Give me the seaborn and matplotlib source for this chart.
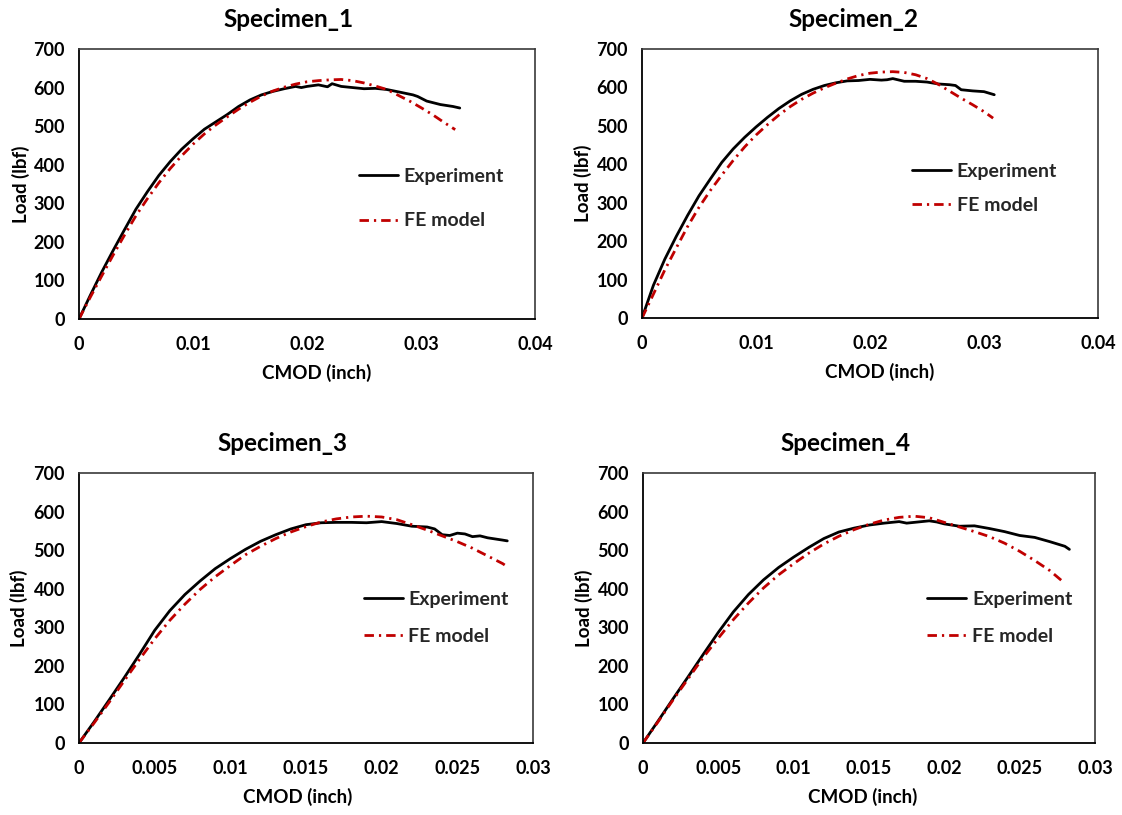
import matplotlib
matplotlib.use("Agg")
import matplotlib.pyplot as plt
import seaborn as sns
import pandas as pd

# ---------------- data ----------------
titles = ["Specimen_1", "Specimen_2", "Specimen_3", "Specimen_4"]
series_names = ["Experiment", "FE model"]

s1_exp_x = [0, 0.001, 0.002, 0.003, 0.004, 0.005, 0.006, 0.007, 0.008, 0.009, 0.010, 0.011, 0.012,
            0.013, 0.014, 0.015, 0.016, 0.017, 0.018, 0.019, 0.0195, 0.020, 0.021, 0.0218, 0.0222,
            0.023, 0.024, 0.025, 0.026, 0.027, 0.028, 0.0293, 0.0297, 0.0305, 0.0317, 0.0328, 0.0334]
s1_exp_y = [0, 62, 122, 178, 232, 285, 330, 372, 408, 440, 467, 492, 511,
            530, 551, 568, 581, 590, 597, 603, 600, 603, 607, 602, 610,
            603, 600, 597, 598, 595, 589, 581, 577, 565, 556, 551, 547]
s1_fe_x = [0, 0.001, 0.002, 0.003, 0.004, 0.005, 0.006, 0.007, 0.008, 0.009, 0.010, 0.011, 0.012,
           0.013, 0.014, 0.015, 0.016, 0.017, 0.018, 0.019, 0.020, 0.021, 0.022, 0.023, 0.024,
           0.025, 0.026, 0.027, 0.028, 0.029, 0.030, 0.031, 0.032, 0.033]
s1_fe_y = [0, 57, 112, 166, 218, 268, 312, 353, 390, 423, 453, 480, 503,
           524, 544, 562, 578, 591, 601, 609, 615, 618, 620, 621, 618,
           612, 604, 595, 580, 565, 548, 530, 510, 491]

s2_exp_x = [0, 0.001, 0.002, 0.003, 0.004, 0.005, 0.006, 0.007, 0.008, 0.009, 0.010, 0.011, 0.012,
            0.013, 0.014, 0.015, 0.016, 0.017, 0.018, 0.019, 0.020, 0.021, 0.0215, 0.022, 0.023,
            0.024, 0.025, 0.026, 0.027, 0.0275, 0.028, 0.029, 0.030, 0.0309]
s2_exp_y = [0, 85, 153, 212, 267, 318, 362, 405, 440, 470, 497, 522, 545,
            565, 582, 595, 605, 612, 617, 618, 621, 619, 620, 623, 616,
            616, 614, 609, 607, 605, 594, 591, 589, 581]
s2_fe_x = [0, 0.001, 0.002, 0.003, 0.004, 0.005, 0.006, 0.007, 0.008, 0.009, 0.010, 0.011, 0.012,
           0.013, 0.014, 0.015, 0.016, 0.017, 0.018, 0.019, 0.020, 0.021, 0.022, 0.023, 0.024,
           0.025, 0.026, 0.027, 0.028, 0.029, 0.030, 0.0308]
s2_fe_y = [0, 62, 125, 182, 238, 288, 332, 372, 410, 445, 476, 503, 528,
           550, 569, 585, 599, 611, 622, 631, 637, 640, 641, 639, 633,
           623, 608, 590, 572, 555, 537, 520]

s3_exp_x = [0, 0.001, 0.002, 0.003, 0.004, 0.005, 0.006, 0.007, 0.008, 0.009, 0.010, 0.011, 0.012,
            0.013, 0.014, 0.015, 0.016, 0.017, 0.018, 0.019, 0.020, 0.021, 0.022, 0.023, 0.0235,
            0.024, 0.0245, 0.025, 0.0255, 0.026, 0.0265, 0.027, 0.028, 0.0283]
s3_exp_y = [0, 55, 112, 170, 230, 292, 343, 385, 420, 452, 478, 502, 523,
            540, 555, 566, 571, 572, 572, 571, 574, 569, 562, 560, 555,
            540, 538, 544, 542, 535, 537, 532, 526, 524]
s3_fe_x = [0, 0.001, 0.002, 0.003, 0.004, 0.005, 0.006, 0.007, 0.008, 0.009, 0.010, 0.011, 0.012,
           0.013, 0.014, 0.015, 0.016, 0.017, 0.018, 0.019, 0.020, 0.021, 0.022, 0.023, 0.024,
           0.025, 0.026, 0.027, 0.028, 0.0283]
s3_fe_y = [0, 52, 106, 162, 217, 270, 318, 360, 398, 431, 460, 488, 510,
           530, 547, 561, 573, 581, 586, 588, 586, 579, 566, 552, 537,
           522, 505, 485, 465, 457]

s4_exp_x = [0, 0.001, 0.002, 0.003, 0.004, 0.005, 0.006, 0.007, 0.008, 0.009, 0.010, 0.011, 0.012,
            0.013, 0.014, 0.015, 0.016, 0.017, 0.0175, 0.018, 0.019, 0.0195, 0.020, 0.021, 0.022,
            0.023, 0.024, 0.025, 0.026, 0.027, 0.028, 0.0283]
s4_exp_y = [0, 57, 115, 172, 230, 287, 340, 385, 423, 455, 482, 507, 530,
            547, 557, 565, 570, 574, 570, 572, 576, 573, 568, 562, 563,
            556, 548, 538, 533, 522, 510, 502]
s4_fe_x = [0, 0.001, 0.002, 0.003, 0.004, 0.005, 0.006, 0.007, 0.008, 0.009, 0.010, 0.011, 0.012,
           0.013, 0.014, 0.015, 0.016, 0.017, 0.018, 0.019, 0.020, 0.021, 0.022, 0.023, 0.024,
           0.025, 0.026, 0.027, 0.028]
s4_fe_y = [0, 55, 112, 167, 222, 272, 320, 363, 402, 436, 465, 492, 516,
           536, 553, 567, 578, 585, 588, 584, 572, 560, 548, 535, 518,
           497, 473, 447, 414]

exp_x = [s1_exp_x, s2_exp_x, s3_exp_x, s4_exp_x]
exp_y = [s1_exp_y, s2_exp_y, s3_exp_y, s4_exp_y]
fe_x = [s1_fe_x, s2_fe_x, s3_fe_x, s4_fe_x]
fe_y = [s1_fe_y, s2_fe_y, s3_fe_y, s4_fe_y]

y_ticks = [0, 100, 200, 300, 400, 500, 600, 700]
y_tick_labels = ["0", "100", "200", "300", "400", "500", "600", "700"]
x_ticks_top = [0, 0.01, 0.02, 0.03, 0.04]
x_tick_labels_top = ["0", "0.01", "0.02", "0.03", "0.04"]
x_ticks_bottom = [0, 0.005, 0.01, 0.015, 0.02, 0.025, 0.03]
x_tick_labels_bottom = ["0", "0.005", "0.01", "0.015", "0.02", "0.025", "0.03"]

x_label = "CMOD (inch)"
y_label = "Load (lbf)"

# ---------------- style ----------------
sns.set_theme(style="white")
plt.rcParams["font.family"] = ["Lato", "DejaVu Sans"]
plt.rcParams["font.weight"] = "bold"

W, H = 1122, 815
fig = plt.figure(figsize=(W / 100, H / 100), dpi=100)

# axes boxes in pixels: left, right, top, bottom
boxes = [(79, 535, 49, 319), (642, 1098, 49, 318), (79, 533, 473, 743), (643, 1095, 473, 743)]
legend_pos = [(0.614, 0.445, 1.4), (0.592, 0.483, 0.87), (0.627, 0.463, 1.06), (0.629, 0.463, 1.06)]
title_dx = [-18, -17, -24, -24]
xlabel_dx = [10, 10, -8, -6]
ylabel_cx = [21, 583, 19, 584]

red = "#C00000"
fe_dash = (3.4, 1.8, 0.8, 1.8)

for i in range(4):
    l, r, t, b = boxes[i]
    ax = fig.add_axes([l / W, 1 - b / H, (r - l) / W, (b - t) / H])
    df_exp = pd.DataFrame({"CMOD": exp_x[i], "Load": exp_y[i]})
    df_fe = pd.DataFrame({"CMOD": fe_x[i], "Load": fe_y[i]})
    sns.lineplot(data=df_exp, x="CMOD", y="Load", ax=ax, color="black", lw=2.0,
                 label=series_names[0], sort=False, estimator=None, errorbar=None)
    sns.lineplot(data=df_fe, x="CMOD", y="Load", ax=ax, color=red, lw=2.0,
                 label=series_names[1], sort=False, estimator=None, errorbar=None,
                 dashes=False)
    ax.lines[1].set_dashes(fe_dash)

    if i < 2:
        ax.set_xlim(0, 0.04)
        ax.set_xticks(x_ticks_top, x_tick_labels_top)
    else:
        ax.set_xlim(0, 0.03)
        ax.set_xticks(x_ticks_bottom, x_tick_labels_bottom)
    ax.set_ylim(0, 700)
    ax.set_yticks(y_ticks, y_tick_labels)

    ax.tick_params(axis="both", direction="in", length=4, width=1.0, color="black",
                   labelsize=13, labelcolor="black", pad=10)
    ax.tick_params(axis="x", pad=12)
    for lab in ax.get_xticklabels() + ax.get_yticklabels():
        lab.set_fontweight("bold")

    for side in ["left", "bottom"]:
        ax.spines[side].set_color("black")
        ax.spines[side].set_linewidth(1.3)
    for side in ["top", "right"]:
        ax.spines[side].set_color("#3a3a3a")
        ax.spines[side].set_linewidth(1.2)

    ax.set_xlabel(x_label, fontsize=13.5, fontweight="bold", color="black", va="center")
    ax.set_ylabel(y_label, fontsize=13.5, fontweight="bold", color="black", va="center")
    cx = ((l + r) / 2 + xlabel_dx[i] - l) / (r - l)
    ax.xaxis.set_label_coords(cx, -54 / (b - t))
    ax.yaxis.set_label_coords((ylabel_cx[i] - l) / (r - l), 0.5)

    ax.set_title(titles[i], fontsize=17.5, fontweight="bold", color="black",
                 x=0.5 + title_dx[i] / (r - l), y=1.0, pad=16)

    lx, ly, sp = legend_pos[i]
    handles, labels = ax.get_legend_handles_labels()
    ax.legend(handles, labels, loc="center left", bbox_to_anchor=(lx, ly), frameon=False,
              borderpad=0, borderaxespad=0, handlelength=2.0, handletextpad=0.3,
              labelspacing=sp, prop={"weight": "bold", "size": 14})

fig.savefig("out.png", dpi=100)
